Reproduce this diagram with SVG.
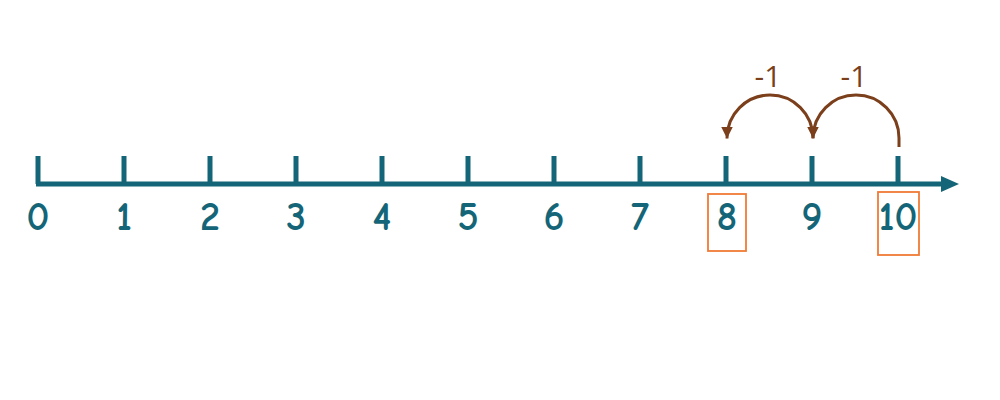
<svg xmlns="http://www.w3.org/2000/svg" width="1000" height="400" viewBox="0 0 1000 400">
<style>
.num{font-family:"Comic Neue","Open Sans","Liberation Sans",sans-serif;font-weight:bold;font-size:40px;fill:#146577;text-anchor:middle}
.tick{stroke:#146577;stroke-width:5}
.jump{fill:none;stroke:#7b3f1c;stroke-width:3}
.lbl{font-family:"Open Sans","Liberation Sans",sans-serif;font-size:30px;fill:#7b3f1c;text-anchor:middle}
.box{fill:none;stroke:#f07a36;stroke-width:1.8}
</style>
<defs>
<marker id="ah" viewBox="0 0 10 10" refX="5" refY="10" markerWidth="17" markerHeight="12" markerUnits="userSpaceOnUse" orient="0">
<path d="M0,0 L10,0 L5,10 Z" fill="#7b3f1c"/>
</marker>
</defs>
<rect width="1000" height="400" fill="#ffffff"/>
<g id="axis">
<line x1="36" y1="184" x2="945" y2="184" stroke="#146577" stroke-width="5"/>
<path d="M941,176 L959,184 L941,192 Z" fill="#146577"/>
<line class="tick" x1="38" y1="156" x2="38" y2="184"/>
<line class="tick" x1="124" y1="156" x2="124" y2="184"/>
<line class="tick" x1="210" y1="156" x2="210" y2="184"/>
<line class="tick" x1="296" y1="156" x2="296" y2="184"/>
<line class="tick" x1="382" y1="156" x2="382" y2="184"/>
<line class="tick" x1="468" y1="156" x2="468" y2="184"/>
<line class="tick" x1="554" y1="156" x2="554" y2="184"/>
<line class="tick" x1="640" y1="156" x2="640" y2="184"/>
<line class="tick" x1="726" y1="156" x2="726" y2="184"/>
<line class="tick" x1="812" y1="156" x2="812" y2="184"/>
<line class="tick" x1="898" y1="156" x2="898" y2="184"/>
</g>
<g id="labels">
<text class="num" x="38" y="230">0</text>
<text class="num" x="124" y="230">1</text>
<text class="num" x="210" y="230">2</text>
<text class="num" x="296" y="230">3</text>
<text class="num" x="382" y="230">4</text>
<text class="num" x="468" y="230">5</text>
<text class="num" x="554" y="230">6</text>
<text class="num" x="640" y="230">7</text>
<text class="num" x="727" y="230">8</text>
<text class="num" x="812" y="230">9</text>
<text class="num" x="898" y="230">10</text>
</g>
<g id="highlights">
<rect class="box" x="708" y="194" width="38" height="57"/>
<rect class="box" x="878" y="192" width="41" height="63"/>
</g>
<g id="connectors">
<path class="jump" d="M899,147 L899,138 A43,43 0 0 0 813,138 L813,138.5" marker-end="url(#ah)"/>
<path class="jump" d="M813,138 A43,43 0 0 0 727,138 L727,138.5" marker-end="url(#ah)"/>
<text class="lbl" x="768" y="87">-1</text>
<text class="lbl" x="854" y="87">-1</text>
</g>
</svg>
